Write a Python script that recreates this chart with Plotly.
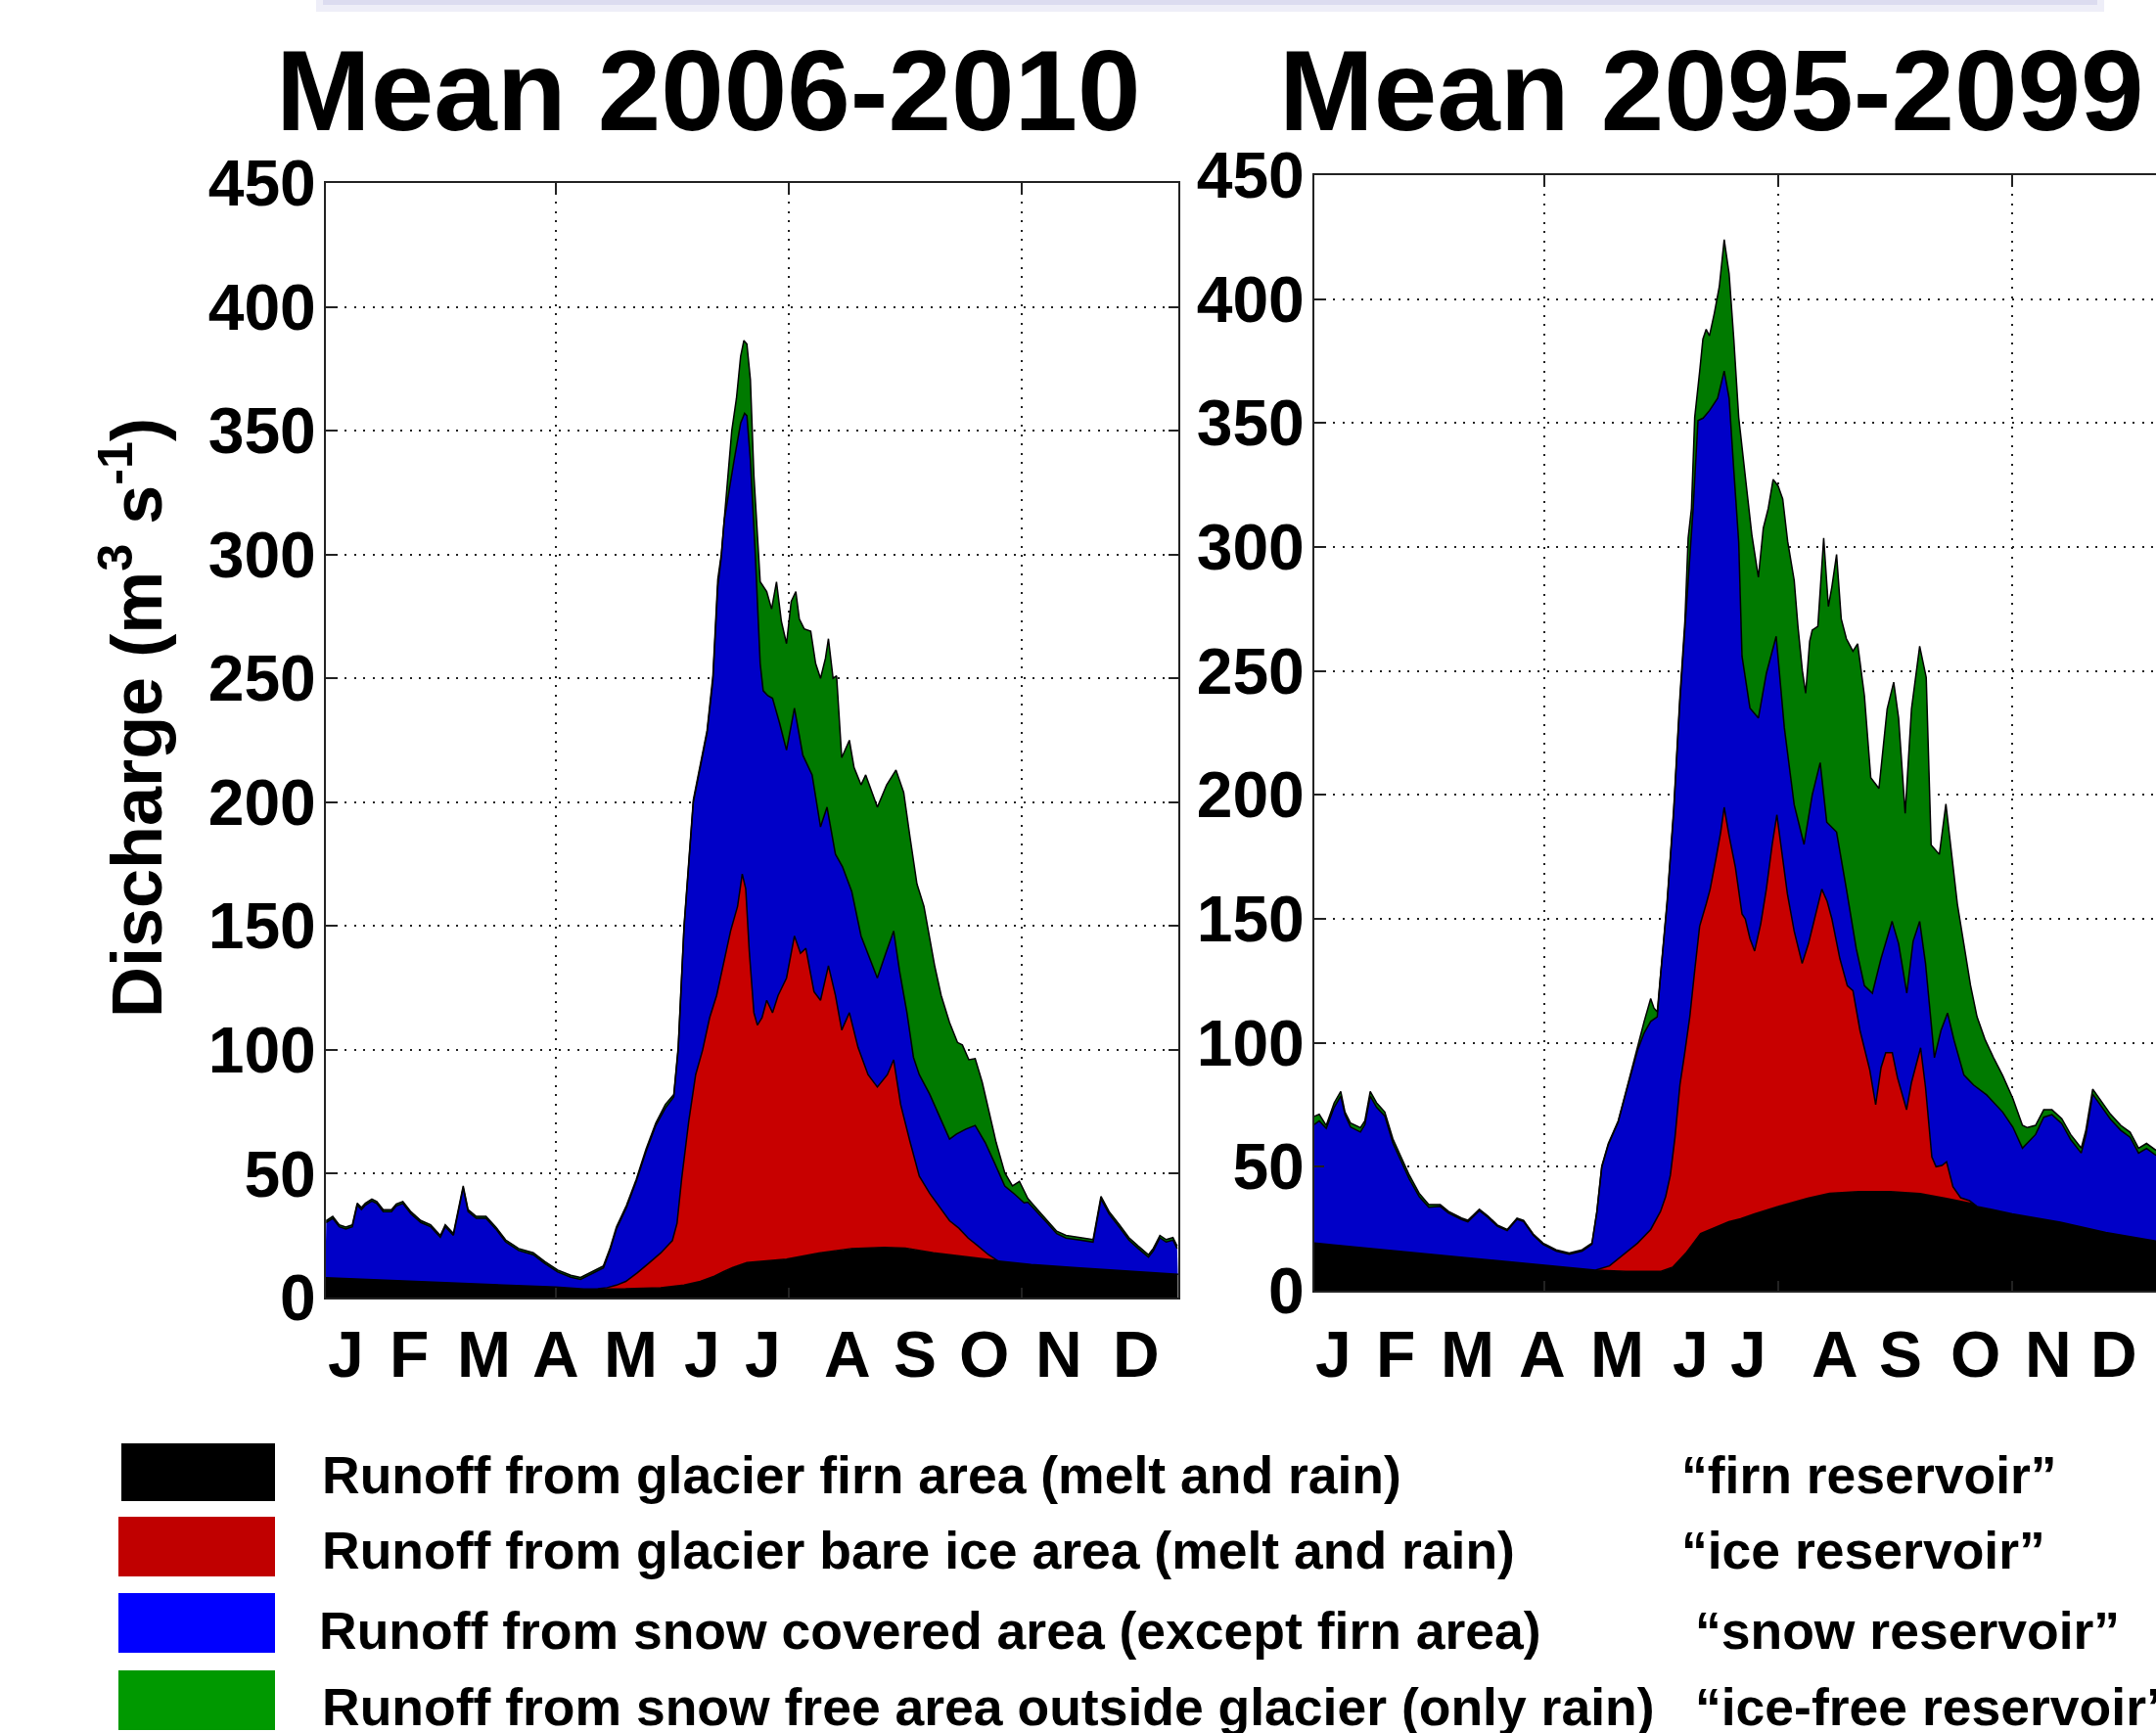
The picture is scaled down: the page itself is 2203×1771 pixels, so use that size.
import plotly.graph_objects as go

W, H = 2203, 1771
FONT = "Liberation Sans, Arial, sans-serif"

# ---------------- data: cumulative layer tops (m3 s-1) vs day of year ----------------
# Left panel: Mean 2006-2010
L_black_day = [1, 20, 40, 60, 80, 100, 112, 130, 145, 155, 162, 168, 172, 176, 182, 190, 199, 213,
               227, 241, 250, 262, 277, 290, 304, 325, 346, 367]
L_black = [8, 7.3, 6.6, 5.8, 5, 4.2, 3.5, 3.6, 4, 5, 6.5, 8.6, 10.5, 12.2, 14.1, 14.8, 15.5, 18,
           19.8, 20.2, 20, 18.1, 16.4, 14.7, 13.3, 12, 10.8, 9.4]

L_red_day = [1, 20, 40, 60, 80, 100, 112, 118, 122, 126, 130, 135, 140, 145, 150, 152, 154, 157, 160,
             163, 166, 169, 172, 175, 178, 180, 181.5, 183, 185, 186.5, 188.5, 190.5, 193, 195.4, 199,
             202.4, 205, 207.3, 210.8, 213.6, 217, 220, 222.7, 226, 229.7, 234, 238, 242.3, 245, 248,
             252, 256, 260.5, 265, 269, 273, 277, 281, 285.7, 290, 304, 325, 346, 367]
L_red = [8, 7.3, 6.6, 5.8, 5, 4.2, 3.5, 3.6, 4, 5, 6.5, 10, 14, 18, 23, 30, 48, 71, 90,
         100, 113, 122, 135, 148, 158, 171, 165, 140, 115, 110, 113, 120, 115, 122, 129,
         146, 139, 141, 123.5, 120, 134, 122, 108, 115, 101, 90, 85, 90, 96, 78,
         63, 49, 42, 36, 31, 28, 24, 21, 17.3, 14.7, 13.3, 12, 10.8, 9.4]

L_blue_day = [1.4, 4.2, 7, 9.8, 12.6, 14.7, 16.5, 18.2, 21, 23.1, 25.9, 29.4, 31.5, 34.3, 37.8, 42,
              46.2, 50.4, 52.5, 56, 58.1, 60.2, 62.3, 65.8, 70, 74.2, 78.4, 84, 90.3, 95.2, 100.8,
              106.4, 110.6, 114.8, 120.4, 123.2, 126, 130.3, 134.5, 138.7, 142.9, 147, 150.6, 152.5,
              155, 159, 164.9, 167.4, 169.5, 171, 172.3, 176.5, 179.3, 181, 182, 183.5, 185.6, 187.7,
              189, 191, 193, 196, 199, 202.4, 206, 210, 213.6, 216.4, 220, 223, 227, 231, 235, 238,
              241.6, 245, 247.5, 250.7, 253.5, 256, 260.5, 264.7, 269, 272, 276, 280, 284.3, 288.5,
              292.7, 297, 301, 302.6, 306.7, 311, 315, 319, 325, 330.6, 334, 337.5, 341.8, 346, 350,
              354.4, 356.5, 359.3, 362, 364.9, 366.7]
L_blue = [30.3, 32, 28.6, 27.7, 28.6, 37.3, 35.5, 37.3, 39, 38, 34.7, 34.7, 37, 38, 33.8, 30.3,
          28.6, 24.3, 28.6, 25.1, 34.7, 44.3, 34.7, 32, 32, 27.7, 22.5, 19, 17.3, 13.8, 10.3,
          8.2, 7.3, 9.4, 12, 19, 27.7, 36.4, 46.9, 59, 69.5, 76.5, 81, 100,
          149, 200, 228, 249, 287, 299, 314, 338, 353, 357, 356, 338, 300, 256,
          245, 243, 242, 232, 221, 238, 219, 211, 190, 198, 179, 174, 164, 146, 136, 129,
          139, 148, 132, 115, 97, 90, 82, 73, 64, 66, 68, 69.5, 62.6, 54,
          45, 41.7, 38.2, 38.5, 34.5, 30, 25.8, 24, 23.2, 22.4, 39.8, 33.7, 28.5, 23.2, 19.8,
          16.3, 18.9, 24.1, 22.4, 23.2, 19.8]

L_green_day = [1.4, 4.2, 7, 9.8, 12.6, 14.7, 16.5, 18.2, 21, 23.1, 25.9, 29.4, 31.5, 34.3, 37.8, 42,
               46.2, 50.4, 52.5, 56, 58.1, 60.2, 62.3, 65.8, 70, 74.2, 78.4, 84, 90.3, 95.2, 100.8,
               106.4, 110.6, 114.8, 120.4, 123.2, 126, 130.3, 134.5, 138.7, 142.9, 147, 150.6, 152.5,
               155, 159, 164.9, 167.4, 169.5, 171, 173, 175.5, 177.5, 179.3, 180.7, 182, 183.5, 185,
               187.7, 190.5, 192.6, 194.7, 196.8, 199, 201, 203, 204.5, 206.6, 209.4, 211.5, 213.6,
               215.7, 217, 219, 220.5, 222.7, 226, 228, 231, 233, 238, 242, 246, 249.3, 252, 255, 258,
               260.5, 262.6, 265.4, 269, 272.4, 274.5, 277.3, 280, 283, 285.7, 289, 292.7, 296, 299,
               302.6, 306.7, 311, 315, 319, 325, 330.6, 334, 337.5, 341.8, 346, 350, 354.4, 356.5,
               359.3, 362, 364.9, 366.7]
L_green = [31, 32.8, 29.4, 28.5, 29.4, 38.1, 36.3, 38.1, 39.8, 38.8, 35.5, 35.5, 37.8, 38.8, 34.6, 31.1,
           29.4, 25.1, 29.4, 25.9, 35.5, 45.1, 35.5, 32.8, 32.8, 28.5, 23.3, 19.8, 18.1, 14.6, 11.1,
           9, 8.1, 10.2, 12.8, 19.8, 28.5, 37.2, 47.7, 60, 70.5, 78, 82, 101,
           150, 201, 229, 251, 290, 300, 322, 350, 363, 380, 386.4, 385, 370.6, 332,
           289, 285, 278, 289, 273, 264, 281, 285, 274, 270, 269, 256, 250,
           258, 266, 250, 251, 218, 225, 214, 207, 211, 198, 207, 213, 204, 186, 167, 158,
           144, 134, 122, 111, 103, 102, 96, 96.5, 87, 76.5, 62.6, 50.4, 45.1, 46.9,
           40, 35.6, 31.2, 26.8, 25.1, 24.2, 23.4, 40.8, 34.7, 29.5, 24.2, 20.8, 17.3, 19.9,
           25.1, 23.4, 24.2, 20.8]

# Right panel: Mean 2095-2099
R_black_day = [1.9, 20, 42.5, 63, 84.3, 105, 122, 135, 150, 155, 161, 166.9, 170.7, 175, 179, 184,
               190, 200, 212.7, 222, 234.4, 248, 260.7, 272, 284.9, 300, 320.6, 340, 361.5]
R_black = [19.2, 17.5, 15.6, 13.8, 11.9, 10, 8.3, 7.8, 7.8, 9.5, 15.6, 23, 24.5, 26.5, 27.8, 29,
           31, 34, 37.3, 39.3, 40, 40, 39.2, 37.2, 34.7, 31, 27.6, 23.5, 20]

R_red_day = [1.9, 42.5, 84.3, 122, 128, 133, 140, 145.6, 149.8, 152, 154, 156, 158.1, 160, 162.3,
             164.5, 166.5, 169.3, 171, 173.5, 175.5, 177, 179, 181.8, 184.6, 186, 188, 190, 192.6,
             195, 197.5, 199.5, 201.5, 204, 206.9, 210.3, 213, 216, 218.7, 221, 223, 226.4, 229.6,
             232, 235, 239.2, 241.7, 244, 246, 248.8, 251, 254.9, 257, 260.9, 263, 265.7, 267.5,
             270, 272, 274.7, 278, 281.8, 285, 300, 320.6, 340, 361.5]
R_red = [19.2, 15.6, 11.9, 8.3, 10, 13.7, 19.2, 24.7, 32, 38, 46.6, 62, 83.1, 95, 110.5,
         130, 147, 156, 162, 174.4, 185, 195, 184, 170.7, 152, 150, 142, 137, 148,
         162, 180, 192, 178, 160, 145, 132, 140, 152, 162, 157, 150, 134, 123,
         121, 105, 89, 75, 90, 96, 96, 86, 73, 84, 98, 82, 54, 50,
         50.5, 52, 42, 37.5, 36.3, 34, 31, 27.6, 23.5, 20]

R_blue_day = [1.9, 4, 7, 10.4, 13.2, 15, 17.4, 21.6, 23.5, 25.8, 28.5, 32, 35.5, 39, 42.5, 46.7, 50.8,
              55.7, 59.2, 64.8, 67.5, 72.4, 76, 80.1, 84.3, 88.5, 91.3, 95.4, 99.6, 105.2, 110.8,
              116.3, 120.5, 122.6, 124.7, 127.5, 131.7, 135.8, 140, 142.8, 145.6, 148.4, 149.8,
              152.6, 155.4, 158.1, 160.2, 163.7, 165.8, 168, 170.7, 174.2, 177, 179.1, 181.1, 183.2,
              184.6, 188, 191.6, 195, 199.2, 202.7, 206.9, 211.1, 214.6, 218, 220.8, 225, 229.2,
              233.4, 236.9, 240.3, 244, 248.7, 251.5, 255, 257.7, 260.5, 263, 266.8, 269.6, 272.4,
              275.2, 279.4, 283.5, 289.1, 296, 300.3, 304.4, 307, 310, 313.5, 317, 321.2, 325,
              329.5, 331.5, 334.4, 338, 342, 346.4, 350.4, 354, 357.4, 361.5]
R_blue = [67, 68.5, 65.5, 74, 78.5, 71, 66, 64, 67, 78.5, 74, 70.5, 59.5, 52.5, 45, 38, 33.7,
          34, 31.3, 28.7, 27.8, 32.3, 29.6, 26, 24.2, 28.8, 27.9, 22.4, 18.7, 16, 14.7,
          16, 18.7, 31.5, 49.8, 58.9, 68, 82.6, 97, 104, 108.6, 110.5, 127,
          156, 192.6, 238, 268, 315, 351, 352, 355, 360, 371, 360, 331, 302,
          256, 235, 231, 249, 264, 227, 196, 180, 200, 213, 189, 185, 162,
          138, 123, 120, 134, 149, 140, 120, 141, 149, 132, 94, 105, 112,
          101, 87, 83, 79, 72, 66, 57.5, 60, 63, 70, 71, 67.4, 61,
          55.5, 62.8, 79.3, 74.7, 69.2, 64.7, 61.9, 55.5, 57.4, 54.6]

R_green_day = [1.9, 4, 7, 10.4, 13.2, 15, 17.4, 21.6, 23.5, 25.8, 28.5, 32, 35.5, 39, 42.5, 46.7,
               50.8, 55.7, 59.2, 64.8, 67.5, 72.4, 76, 80.1, 84.3, 88.5, 91.3, 95.4, 99.6, 105.2,
               110.8, 116.3, 120.5, 122.6, 124.7, 127.5, 131.7, 135.8, 140, 142.8, 145.6, 147,
               148.4, 149.8, 152.6, 155.4, 158.1, 160.2, 161.6, 163, 164.4, 166.5, 167.9, 169.3,
               170.7, 172.8, 174.9, 177, 179.1, 181.1, 183.2, 186, 188.8, 191.6, 193.7, 195.8,
               197.9, 200, 202, 204.1, 206.9, 208.5, 210.4, 211.8, 213.5, 214.6, 217, 219.5, 221.5,
               223, 225, 227, 229.2, 232, 234, 236.9, 239.6, 243.1, 246.6, 249.4, 251.5, 254.3, 257,
               260.5, 263.3, 265.4, 268.9, 271.7, 273.9, 276.6, 279.4, 282.2, 285, 288.4, 292, 296,
               300.3, 304.4, 306.5, 310, 313.5, 317, 321.2, 325, 329.5, 331.5, 334.4, 338, 342,
               346.4, 350.4, 354, 357.4, 361.5]
R_green = [70.3, 71.2, 66.7, 75.8, 80.4, 72.1, 67.6, 65.8, 68.5, 80.4, 75.8, 72.1, 61.2, 53.9, 46.6, 39.3,
           34.7, 34.7, 32, 29.3, 28.4, 32.9, 30.2, 26.5, 24.7, 29.3, 28.4, 22.9, 19.2, 16.5,
           15.2, 16.5, 19.2, 32, 50.3, 59.4, 68.5, 83.1, 98.5, 108.6, 117.8, 114,
           112.5, 128, 157, 194, 240, 270, 303.6, 315.5, 352.3, 370.7, 383.9, 387.8,
           385.2, 394.4, 405, 424, 410.2, 383.9, 352.3, 328.6, 305, 287.8, 307.6, 315.5,
           327.3, 324.7, 319.4, 302.3, 286.5, 268, 250, 241, 262, 266.5, 268, 303.6, 276,
           284, 297, 271, 263, 258, 261, 240, 207, 202.6, 234.6, 245.5, 231, 192.6, 234.6,
           260, 247.4, 179.8, 176, 196.3, 178, 156, 139.7, 123.3, 110.5, 101.4, 94.1, 86.7,
           77.6, 66.7, 65.8, 66.7, 73, 73, 69.4, 63, 57.5, 64.8, 81.3, 76.7, 71.2,
           66.7, 63.9, 57.5, 59.4, 56.6]

titles = ["Mean 2006-2010", "Mean 2095-2099"]
month_labels = ["J", "F", "M", "A", "M", "J", "J", "A", "S", "O", "N", "D"]
month_pos_L = [10, 37, 69, 100, 132, 163, 189, 225, 254, 284, 316, 349]
month_pos_R = [10, 36.5, 67.5, 99.5, 131.5, 162.5, 187.5, 224.5, 252.5, 284.5, 315.5, 343.5]
y_ticks = [0, 50, 100, 150, 200, 250, 300, 350, 400, 450]

legend_labels = ["Runoff from glacier firn area (melt and rain)",
                 "Runoff from glacier bare ice area (melt and rain)",
                 "Runoff from snow covered area (except firn area)",
                 "Runoff from snow free area outside glacier (only rain)"]
legend_names = ["\u201cfirn reservoir\u201d", "\u201cice reservoir\u201d",
                "\u201csnow reservoir\u201d", "\u201cice-free reservoir\u201d"]
plot_colors = ["#000000", "#C80000", "#0000C8", "#007A00"]
legend_colors = ["#000000", "#C00000", "#0000FF", "#009900"]

# ---------------- figure ----------------
def px(x):
    return x / W

def py(y):
    return 1 - y / H

fig = go.Figure()

panels = [
    ("x", "y", [(L_black_day, L_black), (L_red_day, L_red), (L_blue_day, L_blue), (L_green_day, L_green)]),
    ("x2", "y2", [(R_black_day, R_black), (R_red_day, R_red), (R_blue_day, R_blue), (R_green_day, R_green)]),
]
for xa, ya, layers in panels:
    for i, (dx, dy) in enumerate(layers):
        fig.add_trace(go.Scatter(
            x=dx, y=dy, xaxis=xa, yaxis=ya, mode="lines",
            line=dict(color="black", width=1.5),
            fill="tozeroy" if i == 0 else "tonexty",
            fillcolor=plot_colors[i], showlegend=False, hoverinfo="skip"))

grid_common = dict(showgrid=True, gridcolor="#222222", gridwidth=1.6, griddash="2px,7.5px",
                   zeroline=False, showline=True, linecolor="#222222", linewidth=2,
                   ticks="inside", ticklen=10, tickwidth=2, tickcolor="#222222",
                   automargin=False)

xdom_L = [px(333), px(1204)]
xdom_R = [px(1343), 1.0]
ydom_L = [py(1326), py(187)]
ydom_R = [py(1319), py(179)]

tickfont = dict(family=FONT, size=66, color="black", weight="bold")

fig.update_layout(
    width=W, height=H, autosize=False, margin=dict(l=0, r=0, t=0, b=0, pad=0),
    paper_bgcolor="white", plot_bgcolor="white", showlegend=False,
    xaxis=dict(domain=xdom_L, range=[1.26, 367.2], anchor="y", tickvals=[100, 200, 300],
               showticklabels=False, mirror="ticks", **grid_common),
    yaxis=dict(domain=ydom_L, range=[0, 450], anchor="x", tickvals=y_ticks,
               tickfont=tickfont, mirror="ticks", ticklabelstandoff=-5, **grid_common),
    xaxis2=dict(domain=xdom_R, range=[1.92, 361.45], anchor="y2", tickvals=[100, 200, 300],
                showticklabels=False, mirror="ticks", **grid_common),
    yaxis2=dict(domain=ydom_R, range=[0, 450], anchor="x2", tickvals=y_ticks,
                tickfont=tickfont, mirror=False, ticklabelstandoff=-5, **grid_common),
)

ann = []
# titles
for t, cx in zip(titles, [723.5, 1748.5]):
    ann.append(dict(text=t, x=px(cx), y=py(93), xref="paper", yref="paper",
                    xanchor="center", yanchor="middle", showarrow=False,
                    font=dict(family=FONT, size=116, color="black", weight="bold")))
# month labels
for xa, pos in [("x", month_pos_L), ("x2", month_pos_R)]:
    for m, d in zip(month_labels, pos):
        ann.append(dict(text=m, x=d, y=py(1384), xref=xa, yref="paper",
                        xanchor="center", yanchor="middle", showarrow=False,
                        font=dict(family=FONT, size=66, color="black", weight="bold")))
# y-axis title
ann.append(dict(text="Discharge (m<sup>3</sup> s<sup>-1</sup>)", x=px(135), y=py(734),
                xref="paper", yref="paper", xanchor="center", yanchor="middle",
                textangle=-90, showarrow=False,
                font=dict(family=FONT, size=72, color="black", weight="bold")))
# legend
row_y = [1507.5, 1584.7, 1666, 1744.7]
row_box = [(124, 1475, 281, 1534), (121, 1550, 281, 1611), (121, 1628, 281, 1689), (121, 1707, 281, 1768)]
name_x = [1716, 1716, 1730, 1730]
label_x = [327, 327, 324, 327]
shapes = []
for i in range(4):
    x0, y0, x1, y1 = row_box[i]
    shapes.append(dict(type="rect", xref="paper", yref="paper", x0=px(x0), x1=px(x1),
                       y0=py(y1), y1=py(y0), fillcolor=legend_colors[i], line=dict(width=0)))
    ann.append(dict(text=legend_labels[i], x=px(label_x[i]), y=py(row_y[i]), xref="paper", yref="paper",
                    xanchor="left", yanchor="middle", showarrow=False,
                    font=dict(family=FONT, size=53.5, color="black", weight="bold")))
    ann.append(dict(text=legend_names[i], x=px(name_x[i]), y=py(row_y[i]), xref="paper", yref="paper",
                    xanchor="left", yanchor="middle", showarrow=False,
                    font=dict(family=FONT, size=53.5, color="black", weight="bold")))
# faint banner shadow at the very top
shapes.append(dict(type="rect", xref="paper", yref="paper", x0=px(323), x1=px(2150),
                   y0=py(12), y1=py(0), fillcolor="#EEEEF8", line=dict(width=0), layer="below"))
shapes.append(dict(type="rect", xref="paper", yref="paper", x0=px(330), x1=px(2143),
                   y0=py(5), y1=py(0), fillcolor="#DCDCF0", line=dict(width=0), layer="below"))

fig.update_layout(annotations=ann, shapes=shapes)
fig.write_html("out.html", config={"displayModeBar": False},
               post_script="document.body.style.margin='0';")
